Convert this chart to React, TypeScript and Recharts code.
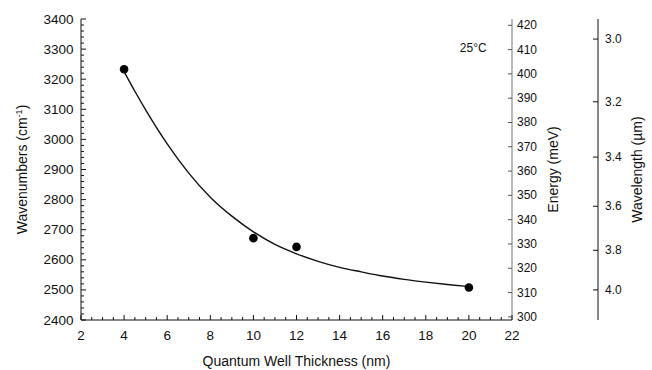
import { ComposedChart, Line, Scatter, XAxis, YAxis, ReferenceDot, Label } from 'recharts'

// measured peaks
const thickness = [4, 10, 12, 20]
const wavenumbers = [3233, 2672, 2643, 2508]

// fitted curve
const fitThickness = [4, 4.5, 5, 6, 7, 8, 9, 10, 11, 12, 13, 14, 15, 16, 17, 18, 19, 20]
const fitWavenumbers = [3225, 3160, 3098, 2985, 2888, 2808, 2745, 2693, 2651, 2620, 2595, 2575, 2560, 2546, 2535, 2526, 2518, 2511]

const xLabels = [2, 4, 6, 8, 10, 12, 14, 16, 18, 20, 22]
const wnLabels = [2400, 2500, 2600, 2700, 2800, 2900, 3000, 3100, 3200, 3300, 3400]
const energyTicks = [300, 310, 320, 330, 340, 350, 360, 370, 380, 390, 400, 410, 420]
const wavelengthTicks = [3.0, 3.2, 3.4, 3.6, 3.8, 4.0]

const steps = (from: number, to: number, step: number) =>
  Array.from({ length: Math.round((to - from) / step) + 1 }, (_, i) => from + i * step)

const xTicks = steps(2, 22, 0.5)
const wnTicks = steps(2400, 3400, 20)
const wlTicks = wavelengthTicks.map((l) => 10000 / l)

const measured = thickness.map((x, i) => ({ x, wn: wavenumbers[i] }))
const fit = fitThickness.map((x, i) => ({ x, wn: fitWavenumbers[i] }))

const ink = '#111'

function BottomTick({ x, y, payload }: any) {
  const major = xLabels.includes(payload.value)
  return (
    <g>
      <line x1={x} x2={x} y1={y} y2={y - (major ? 5 : 3)} stroke={ink} />
      {major && (
        <text x={x} y={y + 19.5} textAnchor="middle" fontSize={13.5} fill={ink}>
          {payload.value}
        </text>
      )}
    </g>
  )
}

function TopTick({ x, y, payload }: any) {
  const major = xLabels.includes(payload.value)
  return <line x1={x} x2={x} y1={y} y2={y + (major ? 5 : 3)} stroke={ink} />
}

function LeftTick({ x, y, payload }: any) {
  const major = wnLabels.includes(payload.value)
  return (
    <g>
      <line x1={x} x2={x + (major ? 5 : 3)} y1={y} y2={y} stroke={ink} />
      {major && (
        <text x={x - 7.5} y={y + 4.5} textAnchor="end" fontSize={13.5} fill={ink}>
          {payload.value}
        </text>
      )}
    </g>
  )
}

function EnergyTick({ x, y, payload }: any) {
  return (
    <g>
      <line x1={x - 4} x2={x} y1={y} y2={y} stroke="#555" />
      <text x={x + 5} y={y + 4} fontSize={12} fill={ink}>
        {payload.value}
      </text>
    </g>
  )
}

function WavelengthTick({ x, y, payload }: any) {
  return (
    <g>
      <line x1={x - 5} x2={x} y1={y} y2={y} stroke={ink} />
      <text x={x + 7} y={y + 4} fontSize={12} fill={ink}>
        {(10000 / payload.value).toFixed(1)}
      </text>
    </g>
  )
}

const rotated = (vb: any, dx: number, body: any) => {
  const cx = vb.x + dx
  const cy = vb.y + vb.height / 2
  return (
    <text x={cx} y={cy} transform={`rotate(-90 ${cx} ${cy})`} textAnchor="middle" fontSize={14} fill={ink}>
      {body}
    </text>
  )
}

export default function App() {
  return (
    <div style={{ position: 'absolute', left: 0, top: 0, background: '#fff', fontFamily: '"Liberation Sans", Arial, sans-serif' }}>
      <ComposedChart width={652} height={370} margin={{ top: 19, right: 0, bottom: 0, left: 0 }}>
        <XAxis
          xAxisId="b"
          dataKey="x"
          type="number"
          domain={[2, 22]}
          ticks={xTicks}
          interval={0}
          allowDataOverflow
          height={50}
          tickSize={0}
          tickMargin={0}
          tickLine={false}
          tick={(p: any) => <BottomTick {...p} />}
          axisLine={{ stroke: ink }}
        >
          <Label
            content={({ viewBox }: any) => (
              <text x={viewBox.x + viewBox.width / 2} y={viewBox.y + 46} textAnchor="middle" fontSize={14} fill={ink}>
                Quantum Well Thickness (nm)
              </text>
            )}
          />
        </XAxis>
        <XAxis
          xAxisId="t"
          dataKey="x"
          orientation="top"
          type="number"
          domain={[2, 22]}
          ticks={xTicks}
          interval={0}
          allowDataOverflow
          height={0}
          tickSize={0}
          tickMargin={0}
          tickLine={false}
          tick={(p: any) => <TopTick {...p} />}
          axisLine={{ stroke: ink }}
        />
        <YAxis
          yAxisId="wn"
          dataKey="wn"
          type="number"
          domain={[2400, 3400]}
          ticks={wnTicks}
          interval={0}
          allowDataOverflow
          width={81}
          tickSize={0}
          tickMargin={0}
          tickLine={false}
          tick={(p: any) => <LeftTick {...p} />}
          axisLine={{ stroke: ink }}
        >
          <Label
            content={({ viewBox }: any) =>
              rotated(viewBox, 27, [
                'Wavenumbers (cm',
                <tspan key="s" dy={-5} fontSize={9}>-1</tspan>,
                <tspan key="p" dy={5}>)</tspan>,
              ])
            }
          />
        </YAxis>
        <YAxis
          yAxisId="e"
          orientation="right"
          type="number"
          domain={[298.7, 422.6]}
          ticks={energyTicks}
          interval={0}
          allowDataOverflow
          width={86}
          tickSize={0}
          tickMargin={0}
          tickLine={false}
          tick={(p: any) => <EnergyTick {...p} />}
          axisLine={{ stroke: '#777' }}
        >
          <Label content={({ viewBox }: any) => rotated(viewBox, 46, 'Energy (meV)')} />
        </YAxis>
        <YAxis
          yAxisId="wl"
          orientation="right"
          type="number"
          domain={[2400, 3400]}
          ticks={wlTicks}
          interval={0}
          allowDataOverflow
          width={54}
          tickSize={0}
          tickMargin={0}
          tickLine={false}
          tick={(p: any) => <WavelengthTick {...p} />}
          axisLine={{ stroke: ink }}
        >
          <Label content={({ viewBox }: any) => rotated(viewBox, 44, 'Wavelength (µm)')} />
        </YAxis>

        {/* invisible series so the secondary axes get laid out */}
        <Line xAxisId="t" yAxisId="wn" data={fit} dataKey="wn" stroke="none" dot={false} isAnimationActive={false} />
        <Line xAxisId="b" yAxisId="e" data={fit} dataKey="wn" stroke="none" dot={false} isAnimationActive={false} />
        <Line xAxisId="b" yAxisId="wl" data={fit} dataKey="wn" stroke="none" dot={false} isAnimationActive={false} />

        <Line
          xAxisId="b"
          yAxisId="wn"
          data={fit}
          dataKey="wn"
          type="monotone"
          stroke={ink}
          strokeWidth={1.4}
          dot={false}
          isAnimationActive={false}
        />
        <Scatter
          xAxisId="b"
          yAxisId="wn"
          data={measured}
          dataKey="wn"
          fill="#000"
          isAnimationActive={false}
          shape={(p: any) => <circle cx={p.cx} cy={p.cy} r={4.3} fill="#000" />}
        />
        <ReferenceDot
          xAxisId="b"
          yAxisId="wn"
          x={20.2}
          y={3304}
          r={0}
          stroke="none"
          label={{ value: '25°C', position: 'center', fontSize: 12, fill: ink }}
        />
      </ComposedChart>
    </div>
  )
}
